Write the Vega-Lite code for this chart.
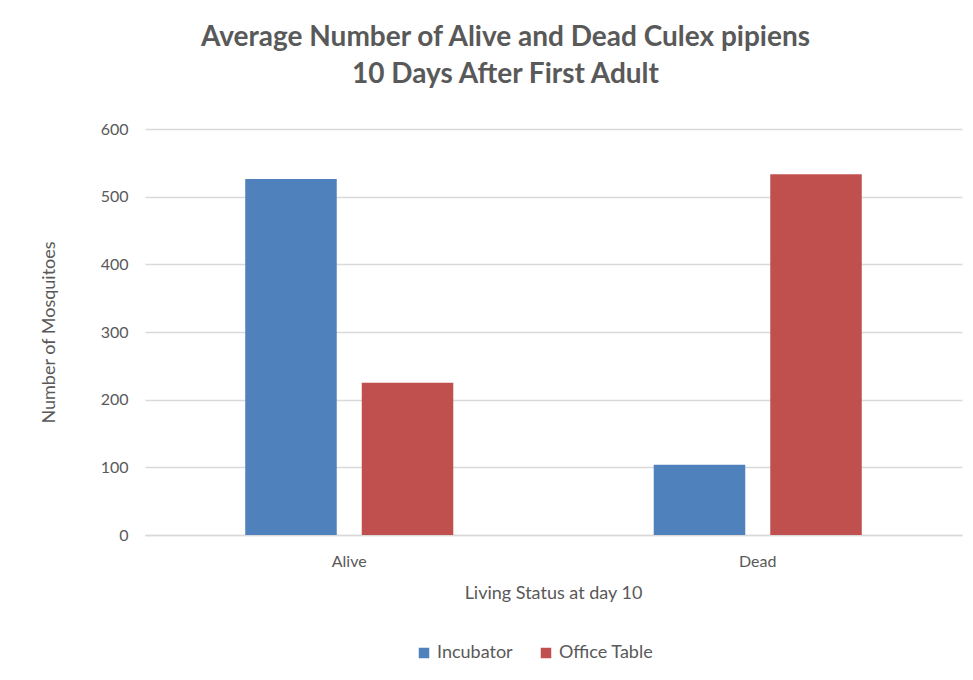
{
  "$schema": "https://vega.github.io/schema/vega-lite/v6.json",
  "autosize": "none",
  "width": 817,
  "height": 406,
  "padding": {"left": 145, "top": 129, "right": 11, "bottom": 145},
  "background": "white",
  "title": {
    "text": ["Average Number of Alive and Dead Culex pipiens", "10 Days After First Adult"],
    "font": "Lato",
    "fontSize": 28,
    "fontWeight": "bold",
    "color": "#595959",
    "anchor": "middle",
    "dx": -48,
    "offset": 32,
    "lineHeight": 37
  },
  "data": {
    "values": [
      {"status": "Alive", "location": "Incubator", "count": 526},
      {"status": "Alive", "location": "Office Table", "count": 225},
      {"status": "Dead", "location": "Incubator", "count": 104},
      {"status": "Dead", "location": "Office Table", "count": 533}
    ]
  },
  "mark": {"type": "bar"},
  "encoding": {
    "x": {
      "field": "status",
      "type": "nominal",
      "scale": {"paddingInner": 0, "paddingOuter": 0},
      "axis": {
        "title": "Living Status at day 10",
        "labelAngle": 0,
        "ticks": false,
        "domain": true,
        "domainColor": "#d9d9d9",
        "domainWidth": 1.5,
        "labelPadding": 18,
        "titlePadding": 15,
        "titleX": 408,
        "titleAnchor": "middle"
      }
    },
    "xOffset": {
      "field": "location",
      "scale": {"paddingInner": 0.2146, "paddingOuter": 0.86}
    },
    "y": {
      "field": "count",
      "type": "quantitative",
      "scale": {"domain": [0, 600]},
      "axis": {
        "title": "Number of Mosquitoes",
        "values": [0, 100, 200, 300, 400, 500, 600],
        "domain": false,
        "ticks": false,
        "gridColor": "#d9d9d9",
        "gridWidth": 1.5,
        "labelPadding": 17,
        "titlePadding": 42
      }
    },
    "color": {
      "field": "location",
      "type": "nominal",
      "scale": {"domain": ["Incubator", "Office Table"], "range": ["#4f81bd", "#c0504d"]},
      "legend": {
        "title": null,
        "orient": "none",
        "direction": "horizontal",
        "legendX": 270,
        "legendY": 515,
        "symbolType": "square",
        "symbolSize": 110,
        "symbolStrokeWidth": 0,
        "columnPadding": 24,
        "labelFontSize": 18,
        "labelColor": "#595959",
        "labelFont": "Lato"
      }
    }
  },
  "config": {
    "view": {"stroke": null},
    "axis": {
      "labelFont": "Lato",
      "titleFont": "Lato",
      "labelFontSize": 16,
      "titleFontSize": 18,
      "titleFontWeight": "normal",
      "labelColor": "#595959",
      "titleColor": "#595959"
    }
  }
}
